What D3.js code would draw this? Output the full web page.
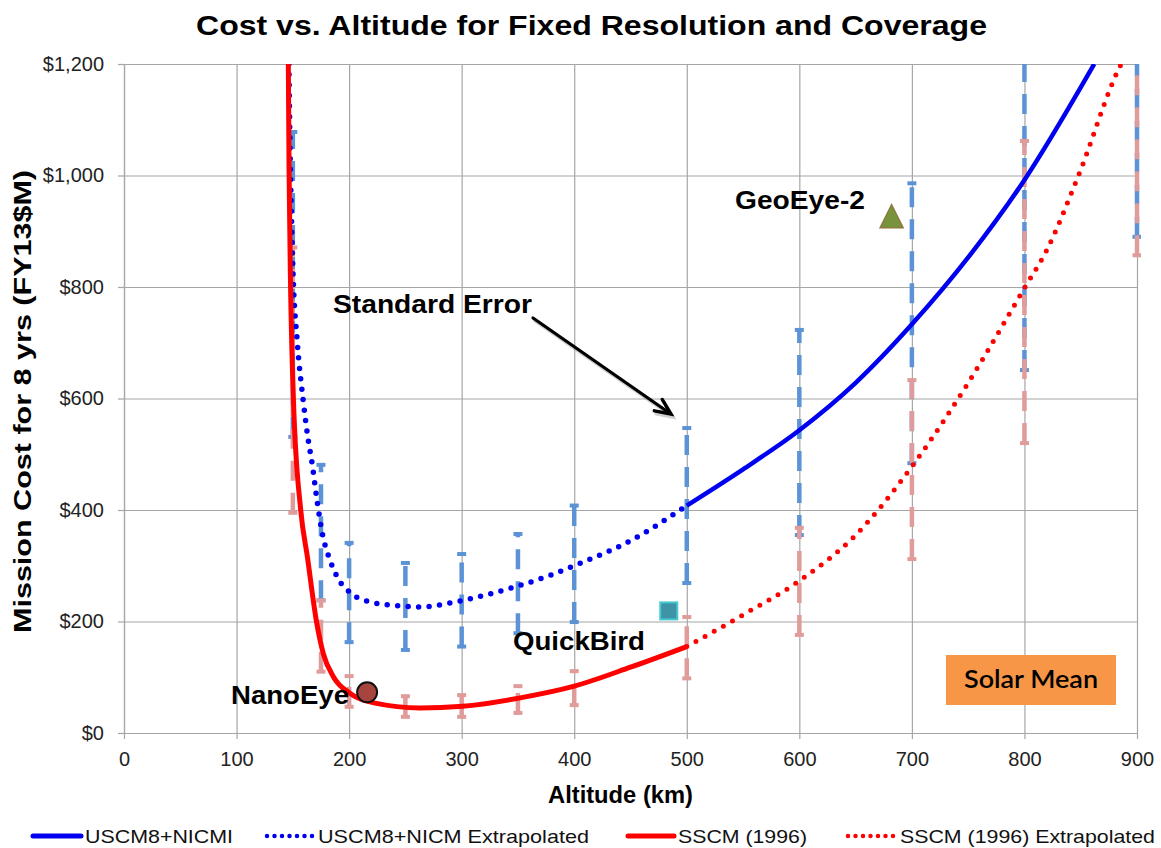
<!DOCTYPE html>
<html><head><meta charset="utf-8">
<script src="https://cdn.jsdelivr.net/npm/d3@7"></script>
<style>body{margin:0;background:#fff;} svg{display:block;}</style>
</head><body>
<svg id="c" width="1161" height="848"></svg>
<script>
// ---------- data ----------
const altitudeTicks = [0,100,200,300,400,500,600,700,800,900];
const costTicks = [0,200,400,600,800,1000,1200];

// USCM8+NICMI (solid blue) [altitude km, cost $M]
const uscmSolid = [[500,408],[550,473],[600,543],[650,628],[700,733],[750,853],[800,992],[850,1158],[862,1200]];
// USCM8+NICM Extrapolated (dotted blue)
const uscmExtrap = [[146.5,1200],[147.5,1050],[148.5,950],[150,836],[154,700],[159,600],[163,535],[167,485],[172,410],[176,360],[183,310],[190,278],[202,250],[219,235],[245,228],[263,226],[284,231],[301,238],[328,251],[352,265],[379,283],[400,300],[450,345],[500,408]];
// SSCM (1996) (solid red)
const sscmSolid = [[146,1200],[146.7,1000],[148,800],[150.5,600],[157,400],[163,315],[171,200],[177,143],[186,101],[201,71],[222,54],[263,45],[301,48],[352,63],[400,84],[450,118],[500,155]];
// SSCM (1996) Extrapolated (dotted red)
const sscmExtrap = [[500,155],[550,212],[600,273],[650,355],[700,478],[750,628],[800,798],[819,863],[848,1000],[884,1192],[886,1200]];

// Standard error bars
const errAltitudes = [150,175,200,250,300,350,400,500,600,700,800,900];
const uscmLow  = [531,238,163,149,155,179,199,269,355,484,651,890];
const uscmHigh = [1078,481,341,305,321,357,408,547,723,986,1350,1600];
const sscmLow  = [395,110,47,29,29,36,50,98,176,312,520,857];
const sscmHigh = [871,238,102,66,68,84,111,208,368,633,1062,1600];

// Reference missions
const missionNames = ["NanoEye","QuickBird","GeoEye-2"];
const missionAlt   = [216,484,682];
const missionCost  = [73,219,926];

const legendLabels = ["USCM8+NICMI","USCM8+NICM Extrapolated","SSCM (1996)","SSCM (1996) Extrapolated"];

// ---------- drawing ----------
const svg = d3.select("#c");
const x = d3.scaleLinear().domain([0,900]).range([124,1137]);
const y = d3.scaleLinear().domain([0,1200]).range([733,64]);
const FONT = "'Liberation Sans', Arial, sans-serif";
const gridColor = "#a6a6a6";

svg.append("defs").append("clipPath").attr("id","plot")
  .append("rect").attr("x",x(0)-4).attr("y",y(1200)).attr("width",x(900)-x(0)+8).attr("height",y(0)-y(1200));

// gridlines
svg.append("g").attr("transform",`translate(0,${y(0)})`)
  .call(d3.axisBottom(x).tickValues(altitudeTicks).tickSize(-(y(0)-y(1200))).tickFormat(""))
  .call(g=>{g.select(".domain").remove(); g.selectAll("line").attr("stroke",gridColor).attr("stroke-width",1.2);});
svg.append("g").attr("transform",`translate(${x(0)},0)`)
  .call(d3.axisLeft(y).tickValues(costTicks).tickSize(-(x(900)-x(0))).tickFormat(""))
  .call(g=>{g.select(".domain").remove(); g.selectAll("line").attr("stroke",gridColor).attr("stroke-width",1.2);});

// axes
const xAxis = svg.append("g").attr("transform",`translate(0,${y(0)})`)
  .call(d3.axisBottom(x).tickValues(altitudeTicks).tickSize(6).tickPadding(13).tickSizeOuter(0));
const yAxis = svg.append("g").attr("transform",`translate(${x(0)},0)`)
  .call(d3.axisLeft(y).tickValues(costTicks).tickSize(6).tickPadding(14).tickSizeOuter(0)
    .tickFormat(d=>"$"+d3.format(",")(d)));
[xAxis,yAxis].forEach(g=>{
  g.select(".domain").attr("stroke",gridColor).attr("stroke-width",1.2);
  g.selectAll(".tick line").attr("stroke",gridColor).attr("stroke-width",1.2);
  g.selectAll("text").attr("font-family",FONT).attr("font-size",20).attr("fill","#222");
});

const plot = svg.append("g").attr("clip-path","url(#plot)");

// error bars
function errorBars(low, high, color){
  const g = plot.append("g");
  errAltitudes.forEach((a,i)=>{
    g.append("line").attr("x1",x(a)).attr("x2",x(a)).attr("y1",y(low[i])).attr("y2",y(high[i]))
      .attr("stroke",color).attr("stroke-width",4.5).attr("stroke-dasharray","20 12");
    [low[i],high[i]].forEach(v=>{
      g.append("line").attr("x1",x(a)-4.5).attr("x2",x(a)+4.5).attr("y1",y(v)).attr("y2",y(v))
        .attr("stroke",color).attr("stroke-width",4);
    });
  });
}
errorBars(uscmLow, uscmHigh, "#5b93d6");
errorBars(sscmLow, sscmHigh, "#e09b9b");

const line = d3.line().x(d=>x(d[0])).y(d=>y(d[1])).curve(d3.curveMonotoneX);
plot.append("path").datum(uscmExtrap).attr("d",line).attr("fill","none")
  .attr("stroke","#0000f0").attr("stroke-width",5.5).attr("stroke-linecap","round").attr("stroke-dasharray","0 10.5");
plot.append("path").datum(uscmSolid).attr("d",line).attr("fill","none")
  .attr("stroke","#0000f0").attr("stroke-width",4.5);
plot.append("path").datum(sscmExtrap).attr("d",line).attr("fill","none")
  .attr("stroke","#ff0000").attr("stroke-width",5).attr("stroke-linecap","round").attr("stroke-dasharray","0 10.5");
plot.append("path").datum(sscmSolid).attr("d",line).attr("fill","none")
  .attr("stroke","#ff0000").attr("stroke-width",5);

// missions markers
svg.append("circle").attr("cx",x(missionAlt[0])).attr("cy",y(missionCost[0])).attr("r",10)
  .attr("fill","#a8443e").attr("stroke","#111").attr("stroke-width",2);
svg.append("rect").attr("x",x(missionAlt[1])-8.5).attr("y",y(missionCost[1])-8.5).attr("width",17).attr("height",17)
  .attr("fill","#3f93a6").attr("stroke","#45c8cf").attr("stroke-width",2);
const tx = x(missionAlt[2]), ty = y(missionCost[2]);
svg.append("path").attr("d",`M${tx},${ty-12}L${tx+11.5},${ty+11}L${tx-11.5},${ty+11}Z`)
  .attr("fill","#77933c").attr("stroke","#8c7a3e").attr("stroke-width",1.5);

// labels
function label(txt, xx, yy, size, len, opts={}){
  return svg.append("text").attr("x",xx).attr("y",yy).text(txt)
    .attr("font-family",opts.font||FONT).attr("font-weight",opts.weight||"bold")
    .attr("font-size",size).attr("text-anchor",opts.anchor||"start")
    .attr("textLength",len).attr("lengthAdjust","spacingAndGlyphs").attr("fill",opts.fill||"#000");
}
label(missionNames[0], 231, 704, 25, 118);
label(missionNames[1], 513, 650, 25, 132);
label(missionNames[2], 735, 209, 25, 130);
label("Standard Error", 333, 313, 25, 199);

// arrow with shadow
const arrowFrom=[533,318], arrowTo=[671,414];
function arrow(dx,dy,color,op){
  const g = svg.append("g").attr("transform",`translate(${dx},${dy})`).attr("opacity",op);
  g.append("line").attr("x1",arrowFrom[0]).attr("y1",arrowFrom[1]).attr("x2",arrowTo[0]-3).attr("y2",arrowTo[1]-2)
    .attr("stroke",color).attr("stroke-width",3.2).attr("stroke-linecap","round");
  const ang = Math.atan2(arrowTo[1]-arrowFrom[1], arrowTo[0]-arrowFrom[0]);
  const L=17, w=0.42;
  const p1=[arrowTo[0]-L*Math.cos(ang-w), arrowTo[1]-L*Math.sin(ang-w)];
  const p2=[arrowTo[0]-L*Math.cos(ang+w), arrowTo[1]-L*Math.sin(ang+w)];
  g.append("path").attr("d",`M${p1}L${arrowTo}L${p2}`).attr("fill","none")
    .attr("stroke",color).attr("stroke-width",3.4).attr("stroke-linejoin","miter").attr("stroke-linecap","round");
}
arrow(2,3,"#999",0.45);
arrow(0,0,"#000",1);

// Solar Mean box
svg.append("rect").attr("x",946).attr("y",655).attr("width",170).attr("height",50).attr("fill","#f79646");
label("Solar Mean", 1031, 688, 24, 134, {anchor:"middle", font:"Lato, 'Open Sans', sans-serif", weight:"600"});

// title and axis titles
label("Cost vs. Altitude for Fixed Resolution and Coverage", 591.5, 35, 27, 791, {anchor:"middle"});
label("Altitude (km)", 620.5, 803, 24, 145, {anchor:"middle"});
svg.append("text").attr("transform","translate(31,401.5) rotate(-90)").text("Mission Cost for 8 yrs (FY13$M)")
  .attr("font-family",FONT).attr("font-weight","bold").attr("font-size",24).attr("text-anchor","middle")
  .attr("textLength",463).attr("lengthAdjust","spacingAndGlyphs");

// legend
const legendSwatch = [[33,81],[267,315],[628,674],[848,896]];
const legendTextX = [85,318,678,900];
const legendTextLen = [148,271,129,255];
const legendStyle = [
  {c:"#0000f0",dash:null,w:5},{c:"#0000f0",dash:"0 7.5",w:4.5},
  {c:"#ff0000",dash:null,w:5},{c:"#ff0000",dash:"0 7.5",w:4.5}];
legendLabels.forEach((t,i)=>{
  const s = legendStyle[i];
  const ln = svg.append("line").attr("x1",legendSwatch[i][0]).attr("x2",legendSwatch[i][1]).attr("y1",836).attr("y2",836)
    .attr("stroke",s.c).attr("stroke-width",s.w).attr("stroke-linecap","round");
  if(s.dash) ln.attr("stroke-dasharray",s.dash);
  label(t, legendTextX[i], 843, 19, legendTextLen[i], {weight:"normal", fill:"#111"});
});
</script>
</body></html>
